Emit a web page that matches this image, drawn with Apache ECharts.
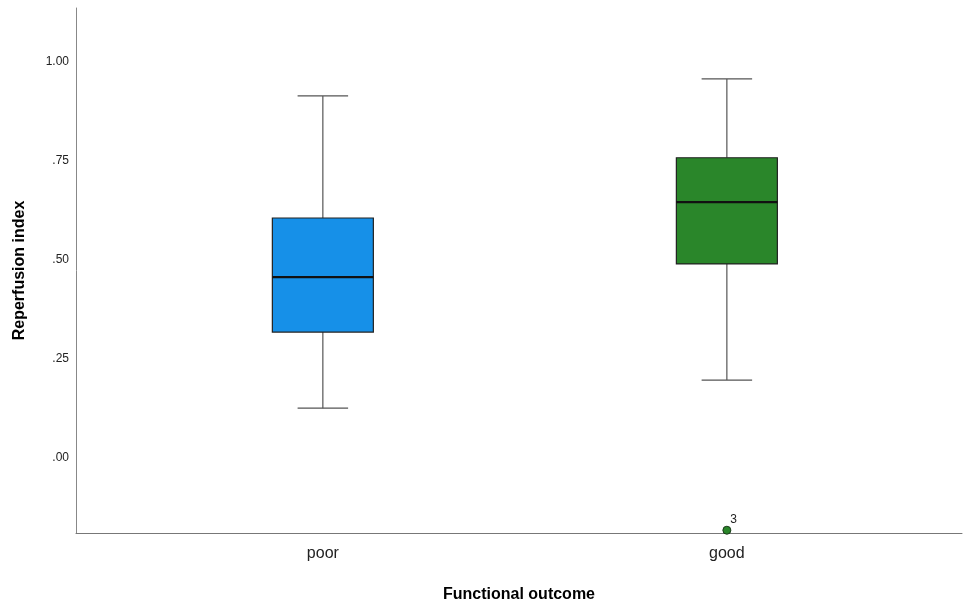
<!DOCTYPE html>
<html><head><meta charset="utf-8">
<script src="https://cdn.jsdelivr.net/npm/echarts@6/dist/echarts.min.js"></script>
<style>html,body{margin:0;padding:0;background:#fff}#c{width:964px;height:605px}</style>
</head><body><div id="c"></div>
<script>
const categories = ['poor', 'good'];
const boxColors = ['#1690e8', '#2a862a'];
// [min, Q1, median, Q3, max]
const boxStats = [
  [0.126, 0.318, 0.457, 0.606, 0.914],
  [0.197, 0.490, 0.646, 0.758, 0.957]
];
// outliers: [categoryIndex, value, caseLabel]
const outliers = [[1, -0.182, '3']];
const yTicks = [0, 0.25, 0.5, 0.75, 1];

const chart = echarts.init(document.getElementById('c'), null, {renderer: 'canvas'});
const boxData = boxStats.map((s, i) => [i].concat(s));

chart.setOption({
  animation: false,
  grid: {left: 76, right: 2, top: 8, bottom: 72, containLabel: false, outerBoundsMode: 'none'},
  xAxis: {
    type: 'value', min: -0.611, max: 1.582,
    splitLine: {show: false},
    axisTick: {show: false},
    axisLine: {onZero: false, lineStyle: {color: '#777', width: 1}},
    axisLabel: {customValues: [0, 1], formatter: v => categories[Math.round(v)] || '',
      fontFamily: 'Liberation Sans, Arial', fontSize: 16, color: '#222', margin: 13},
    name: 'Functional outcome', nameLocation: 'middle', nameGap: 54,
    nameTextStyle: {fontFamily: 'Liberation Sans, Arial', fontSize: 16, fontWeight: 'bold', color: '#000'}
  },
  yAxis: {
    type: 'value', min: -0.189, max: 1.136,
    splitLine: {show: false},
    axisTick: {show: false},
    axisLine: {show: true, onZero: false, lineStyle: {color: '#888', width: 1}},
    axisLabel: {customValues: yTicks, formatter: v => v.toFixed(2).replace(/^0/, ''),
      fontFamily: 'Liberation Sans, Arial', fontSize: 12, color: '#222', margin: 7},
    name: 'Reperfusion index', nameLocation: 'middle', nameGap: 48,
    nameTextStyle: {fontFamily: 'Liberation Sans, Arial', fontSize: 16, fontWeight: 'bold', color: '#000'}
  },
  series: [
    {
      type: 'custom',
      data: boxData,
      encode: {x: 0, y: [1, 2, 3, 4, 5]},
      renderItem: function (params, api) {
        const i = api.value(0);
        const pMin = api.coord([i, api.value(1)]);
        const pQ1 = api.coord([i, api.value(2)]);
        const pMed = api.coord([i, api.value(3)]);
        const pQ3 = api.coord([i, api.value(4)]);
        const pMax = api.coord([i, api.value(5)]);
        const bw = api.size([0.25, 0])[0];
        const cx = pMed[0];
        const whisk = {stroke: '#555', lineWidth: 1.2};
        return {
          type: 'group',
          children: [
            {type: 'line', shape: {x1: cx, y1: pMax[1], x2: cx, y2: pQ3[1]}, style: whisk},
            {type: 'line', shape: {x1: cx, y1: pQ1[1], x2: cx, y2: pMin[1]}, style: whisk},
            {type: 'line', shape: {x1: cx - bw / 4, y1: pMax[1], x2: cx + bw / 4, y2: pMax[1]}, style: whisk},
            {type: 'line', shape: {x1: cx - bw / 4, y1: pMin[1], x2: cx + bw / 4, y2: pMin[1]}, style: whisk},
            {type: 'rect', shape: {x: cx - bw / 2, y: pQ3[1], width: bw, height: pQ1[1] - pQ3[1]},
              style: {fill: boxColors[i], stroke: '#222', lineWidth: 1.2}},
            {type: 'line', shape: {x1: cx - bw / 2, y1: pMed[1], x2: cx + bw / 2, y2: pMed[1]},
              style: {stroke: '#111', lineWidth: 2.2}}
          ]
        };
      },
      z: 2
    },
    {
      type: 'scatter',
      data: outliers.map(o => ({value: [o[0], o[1]], name: o[2],
        itemStyle: {color: boxColors[o[0]], borderColor: '#1a3a1a', borderWidth: 1, opacity: 1}})),
      symbol: 'circle', symbolSize: 8,
      label: {show: true, position: [8, -12], formatter: p => p.name,
        fontFamily: 'Liberation Sans, Arial', fontSize: 12, color: '#222'},
      z: 3
    }
  ]
});
</script></body></html>
